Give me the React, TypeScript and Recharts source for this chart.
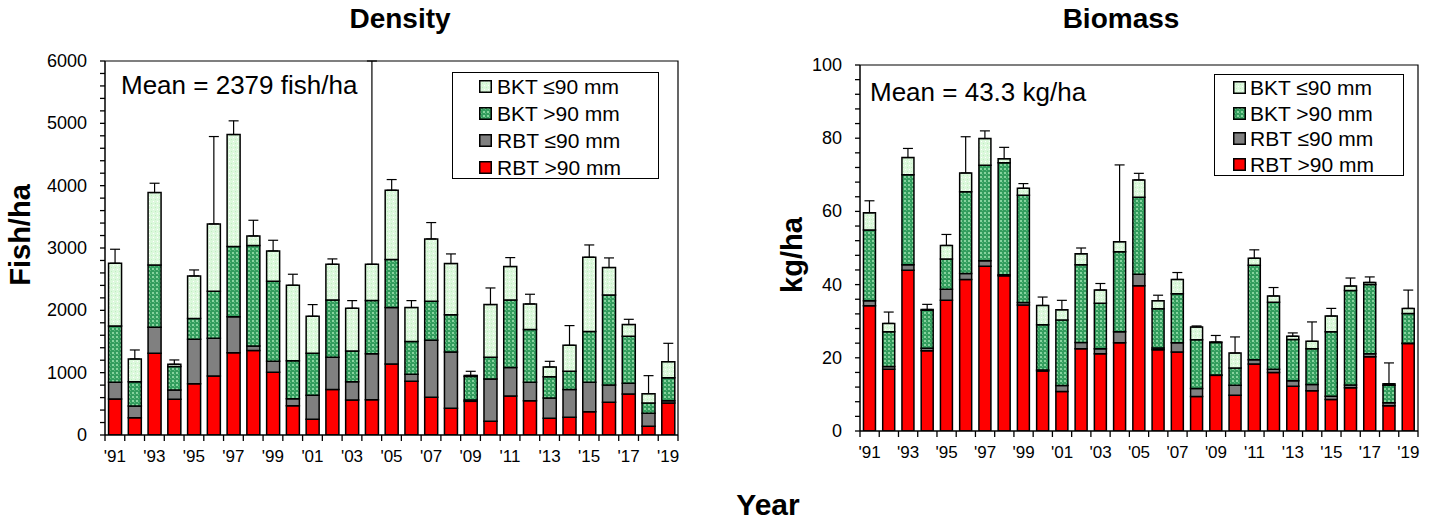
import React from 'react';
import { BarChart, Bar, XAxis, YAxis, ErrorBar, Legend } from 'recharts';

const years = ['91', '92', '93', '94', '95', '96', '97', '98', '99', '00', '01', '02', '03', '04', '05',
  '06', '07', '08', '09', '10', '11', '12', '13', '14', '15', '16', '17', '18', '19'];

// Density (fish/ha) – stacked segments, bottom to top
const densRbtOver = [578, 278, 1311, 572, 824, 947, 1321, 1354, 1006, 471, 251, 728, 562, 567, 1140,
  861, 605, 428, 540, 219, 626, 551, 268, 284, 375, 524, 658, 139, 514];
const densRbtUnder = [267, 187, 417, 150, 711, 604, 578, 74, 176, 112, 386, 519, 294, 738, 904,
  113, 914, 904, 20, 680, 455, 294, 326, 444, 470, 279, 171, 209, 37];
const densBktOver = [905, 391, 1001, 375, 332, 755, 1124, 1611, 1284, 610, 674, 920, 492, 851, 770,
  524, 626, 599, 380, 348, 1086, 846, 342, 294, 814, 1444, 755, 166, 369];
const densBktUnder = [1005, 364, 1160, 37, 685, 1081, 1797, 155, 487, 1209, 594, 572, 685, 583, 1113,
  546, 1001, 819, 15, 845, 535, 412, 155, 417, 1193, 439, 187, 149, 257];
const densErr = [225, 144, 150, 70, 96, 1401, 220, 251, 171, 177, 187, 86, 123, 3261, 171,
  112, 262, 155, 67, 267, 144, 155, 91, 316, 197, 155, 85, 289, 294];

// Biomass (kg/ha)
const bioRbtOver = [34.2, 16.9, 43.9, 21.9, 35.7, 41.4, 45.0, 42.4, 34.4, 16.4, 10.8, 22.5, 21.1, 24.1, 39.7,
  22.2, 21.6, 9.4, 15.2, 9.8, 18.3, 16.0, 12.2, 11.0, 8.6, 11.8, 20.3, 6.9, 23.9];
const bioRbtUnder = [1.4, 0.7, 1.5, 0.7, 3.0, 1.6, 1.5, 0.3, 0.7, 0.3, 1.6, 1.7, 1.4, 3.0, 3.1,
  0.5, 2.5, 2.2, 0.1, 2.7, 1.2, 0.9, 1.5, 1.7, 0.9, 0.8, 0.8, 0.8, 0.1];
const bioBktOver = [19.3, 9.5, 24.6, 10.4, 8.3, 22.4, 26.1, 30.6, 29.3, 12.3, 17.9, 21.2, 12.4, 21.9, 21.1,
  10.7, 13.4, 13.3, 8.9, 4.7, 25.8, 18.3, 11.3, 9.8, 17.6, 25.8, 18.9, 4.8, 8.1];
const bioBktUnder = [4.7, 2.3, 4.7, 0.2, 3.7, 5.1, 7.3, 1.1, 1.9, 5.3, 2.8, 3.0, 3.6, 2.7, 4.7,
  2.2, 3.9, 3.5, 0.1, 4.1, 1.9, 1.7, 0.9, 2.0, 4.3, 1.2, 0.6, 0.4, 1.4];
const bioErr = [3.3, 3.1, 2.5, 1.4, 3.0, 9.9, 2.1, 3.1, 1.3, 2.3, 2.6, 1.6, 1.8, 21.0, 1.8,
  1.5, 1.9, 0.3, 1.8, 4.4, 2.3, 2.3, 0.9, 5.3, 2.1, 2.2, 1.5, 5.7, 5.0];

const densMajorTicks = [0, 1000, 2000, 3000, 4000, 5000, 6000];
const bioMajorTicks = [0, 20, 40, 60, 80, 100];

const legendItems = [
  { key: 'bktUnder', label: 'BKT ≤90 mm' },
  { key: 'bktOver', label: 'BKT >90 mm' },
  { key: 'rbtUnder', label: 'RBT ≤90 mm' },
  { key: 'rbtOver', label: 'RBT >90 mm' },
];

const FONT = '"Liberation Sans", Arial, sans-serif';

const buildRows = (a: number[], b: number[], c: number[], d: number[], e: number[]) =>
  years.map((year, i) => ({
    year,
    rbtOver: a[i],
    rbtUnder: b[i],
    bktOver: c[i],
    bktUnder: d[i],
    err: [0, e[i]],
  }));

const densityRows = buildRows(densRbtOver, densRbtUnder, densBktOver, densBktUnder, densErr);
const biomassRows = buildRows(bioRbtOver, bioRbtUnder, bioBktOver, bioBktUnder, bioErr);

const minorTicks = (max: number, step: number) => {
  const out: number[] = [];
  for (let v = 0; v <= max + 1e-9; v += step) out.push(Math.round(v * 100) / 100);
  return out;
};

const Patterns = ({ id }: { id: string }) => (
  <defs>
    <pattern id={`${id}-dark`} width="4" height="4" patternUnits="userSpaceOnUse">
      <rect width="4" height="4" fill="#339d5e" />
      <rect x="0" y="0" width="2" height="2" fill="#86d49e" />
      <rect x="2" y="2" width="1" height="1" fill="#5dbb7c" />
    </pattern>
    <pattern id={`${id}-light`} width="4" height="4" patternUnits="userSpaceOnUse">
      <rect width="4" height="4" fill="#dcf8dc" />
      <rect x="1" y="1" width="1" height="1" fill="#ffffff" />
      <rect x="3" y="3" width="1" height="1" fill="#bfeec0" />
    </pattern>
  </defs>
);

const fillsFor = (id: string): Record<string, string> => ({
  rbtOver: '#ff0000',
  rbtUnder: '#808080',
  bktOver: `url(#${id}-dark)`,
  bktUnder: `url(#${id}-light)`,
});

interface LegendBoxProps {
  fills: Record<string, string>;
  width: number;
  height: number;
  rowH: number;
  padTop: number;
  iconLeft: number;
  textLeft: number;
}

const LegendBox = ({ fills, width, height, rowH, padTop, iconLeft, textLeft }: LegendBoxProps) => (
  <div
    style={{
      width, height, boxSizing: 'border-box', border: '1.5px solid #000', background: '#fff',
      fontFamily: FONT, fontSize: 21, color: '#000', paddingTop: padTop,
    }}
  >
    {legendItems.map((it) => (
      <div key={it.key} style={{ position: 'relative', height: rowH, lineHeight: `${rowH}px` }}>
        <svg width={13} height={13} style={{ position: 'absolute', left: iconLeft, top: (rowH - 13) / 2 }}>
          <rect x={0.75} y={0.75} width={11.5} height={11.5} fill={fills[it.key]} stroke="#000" strokeWidth={1.5} />
        </svg>
        <span style={{ position: 'absolute', left: textLeft, top: 0, whiteSpace: 'nowrap' }}>{it.label}</span>
      </div>
    ))}
  </div>
);

interface PanelProps {
  id: string;
  rows: ReturnType<typeof buildRows>;
  left: number;
  width: number;
  margin: { top: number; right: number; bottom: number; left: number };
  yAxisWidth: number;
  yMax: number;
  minorStep: number;
  majors: number[];
  legend: { left: number; top: number; width: number; height: number; rowH: number; padTop: number; iconLeft: number; textLeft: number };
}

const HEIGHT = 521;
const X_AXIS_H = 30;

const Panel = ({ id, rows, left, width, margin, yAxisWidth, yMax, minorStep, majors, legend }: PanelProps) => {
  const fills = fillsFor(id);
  const plotW = width - margin.left - margin.right - yAxisWidth;
  const band = plotW / rows.length;

  const XTick = (props: any) => {
    const { x, y, payload, index } = props;
    const n = Number(payload.value);
    return (
      <g>
        {index === 0 && <line x1={x - band / 2} x2={x - band / 2} y1={y} y2={y + 6} stroke="#000" strokeWidth={1.3} />}
        <line x1={x + band / 2} x2={x + band / 2} y1={y} y2={y + 6} stroke="#000" strokeWidth={1.3} />
        {n % 2 === 1 && (
          <text x={x} y={y + 27} textAnchor="middle" fontSize={17} fontFamily={FONT} fill="#000">
            {`'${payload.value}`}
          </text>
        )}
      </g>
    );
  };

  const YTick = (props: any) => {
    const { x, y, payload } = props;
    if (!majors.includes(payload.value)) return <g />;
    return (
      <text x={x} y={y} dy={6} textAnchor="end" fontSize={18} fontFamily={FONT} fill="#000">
        {payload.value}
      </text>
    );
  };

  return (
    <div style={{ position: 'absolute', left, top: 0 }}>
      <BarChart width={width} height={HEIGHT} data={rows} margin={margin} barCategoryGap="18%">
        <Patterns id={id} />
        <XAxis
          dataKey="year"
          height={X_AXIS_H}
          interval={0}
          tickSize={0}
          tickMargin={0}
          tickLine={false}
          axisLine={{ stroke: '#000', strokeWidth: 1.5 }}
          tick={<XTick />}
        />
        <YAxis
          width={yAxisWidth}
          domain={[0, yMax]}
          ticks={minorTicks(yMax, minorStep)}
          interval={0}
          allowDataOverflow
          tickSize={5}
          tickMargin={13}
          tickLine={{ stroke: '#000', strokeWidth: 1.3 }}
          axisLine={{ stroke: '#000', strokeWidth: 1.5 }}
          tick={<YTick />}
        />
        <Legend
          layout="vertical"
          align="center"
          verticalAlign="middle"
          wrapperStyle={{ left: legend.left, top: legend.top, width: legend.width, height: legend.height }}
          content={() => (
            <LegendBox
              fills={fills}
              width={legend.width}
              height={legend.height}
              rowH={legend.rowH}
              padTop={legend.padTop}
              iconLeft={legend.iconLeft}
              textLeft={legend.textLeft}
            />
          )}
        />
        <Bar dataKey="rbtOver" stackId="s" fill={fills.rbtOver} stroke="#000" strokeWidth={1.5} isAnimationActive={false} />
        <Bar dataKey="rbtUnder" stackId="s" fill={fills.rbtUnder} stroke="#000" strokeWidth={1.5} isAnimationActive={false} />
        <Bar dataKey="bktOver" stackId="s" fill={fills.bktOver} stroke="#000" strokeWidth={1.5} isAnimationActive={false} />
        <Bar dataKey="bktUnder" stackId="s" fill={fills.bktUnder} stroke="#000" strokeWidth={1.5} isAnimationActive={false}>
          <ErrorBar dataKey="err" width={5} stroke="#000" strokeWidth={1.2} isAnimationActive={false} />
        </Bar>
      </BarChart>
    </div>
  );
};

const densityLayout = {
  left: 0, width: 720,
  margin: { top: 61, right: 42, bottom: HEIGHT - 435 - X_AXIS_H, left: 0 },
  yAxisWidth: 105,
};
const biomassLayout = {
  left: 720, width: 719,
  margin: { top: 65, right: 21, bottom: HEIGHT - 431 - X_AXIS_H, left: 0 },
  yAxisWidth: 140,
};

const frame = (l: { left: number; width: number; margin: any; yAxisWidth: number }) => {
  const x0 = l.left + l.margin.left + l.yAxisWidth;
  const x1 = l.left + l.width - l.margin.right;
  const y0 = l.margin.top;
  const y1 = HEIGHT - l.margin.bottom - X_AXIS_H;
  return `M${x0},${y0} L${x1},${y0} L${x1},${y1}`;
};

export default function App() {
  return (
    <div style={{ position: 'absolute', left: 0, top: 0, width: 1439, height: HEIGHT, background: '#fff', fontFamily: FONT }}>
      <Panel
        id="dens"
        rows={densityRows}
        {...densityLayout}
        yMax={6000}
        minorStep={200}
        majors={densMajorTicks}
        legend={{ left: 452, top: 72, width: 207, height: 107, rowH: 27, padTop: 0, iconLeft: 26, textLeft: 44 }}
      />
      <Panel
        id="bio"
        rows={biomassRows}
        {...biomassLayout}
        yMax={100}
        minorStep={4}
        majors={bioMajorTicks}
        legend={{ left: 494, top: 74, width: 190, height: 102, rowH: 25.5, padTop: 0, iconLeft: 18, textLeft: 35 }}
      />
      <svg width={1439} height={HEIGHT} style={{ position: 'absolute', left: 0, top: 0, pointerEvents: 'none' }}>
        <path d={frame(densityLayout)} fill="none" stroke="#000" strokeWidth={1.2} />
        <path d={frame(biomassLayout)} fill="none" stroke="#000" strokeWidth={1.2} />
        <g fontFamily={FONT} fill="#000">
          <text x={400} y={28} textAnchor="middle" fontSize={28} fontWeight="bold">Density</text>
          <text x={1121} y={28} textAnchor="middle" fontSize={28} fontWeight="bold">Biomass</text>
          <text x={768} y={515} textAnchor="middle" fontSize={30} fontWeight="bold">Year</text>
          <text transform="translate(30,235) rotate(-90)" textAnchor="middle" fontSize={29} fontWeight="bold">Fish/ha</text>
          <text transform="translate(802,255) rotate(-90)" textAnchor="middle" fontSize={29} fontWeight="bold">kg/ha</text>
          <text x={121} y={94} fontSize={26}>Mean = 2379 fish/ha</text>
          <text x={870} y={101} fontSize={26}>Mean = 43.3 kg/ha</text>
        </g>
      </svg>
    </div>
  );
}
